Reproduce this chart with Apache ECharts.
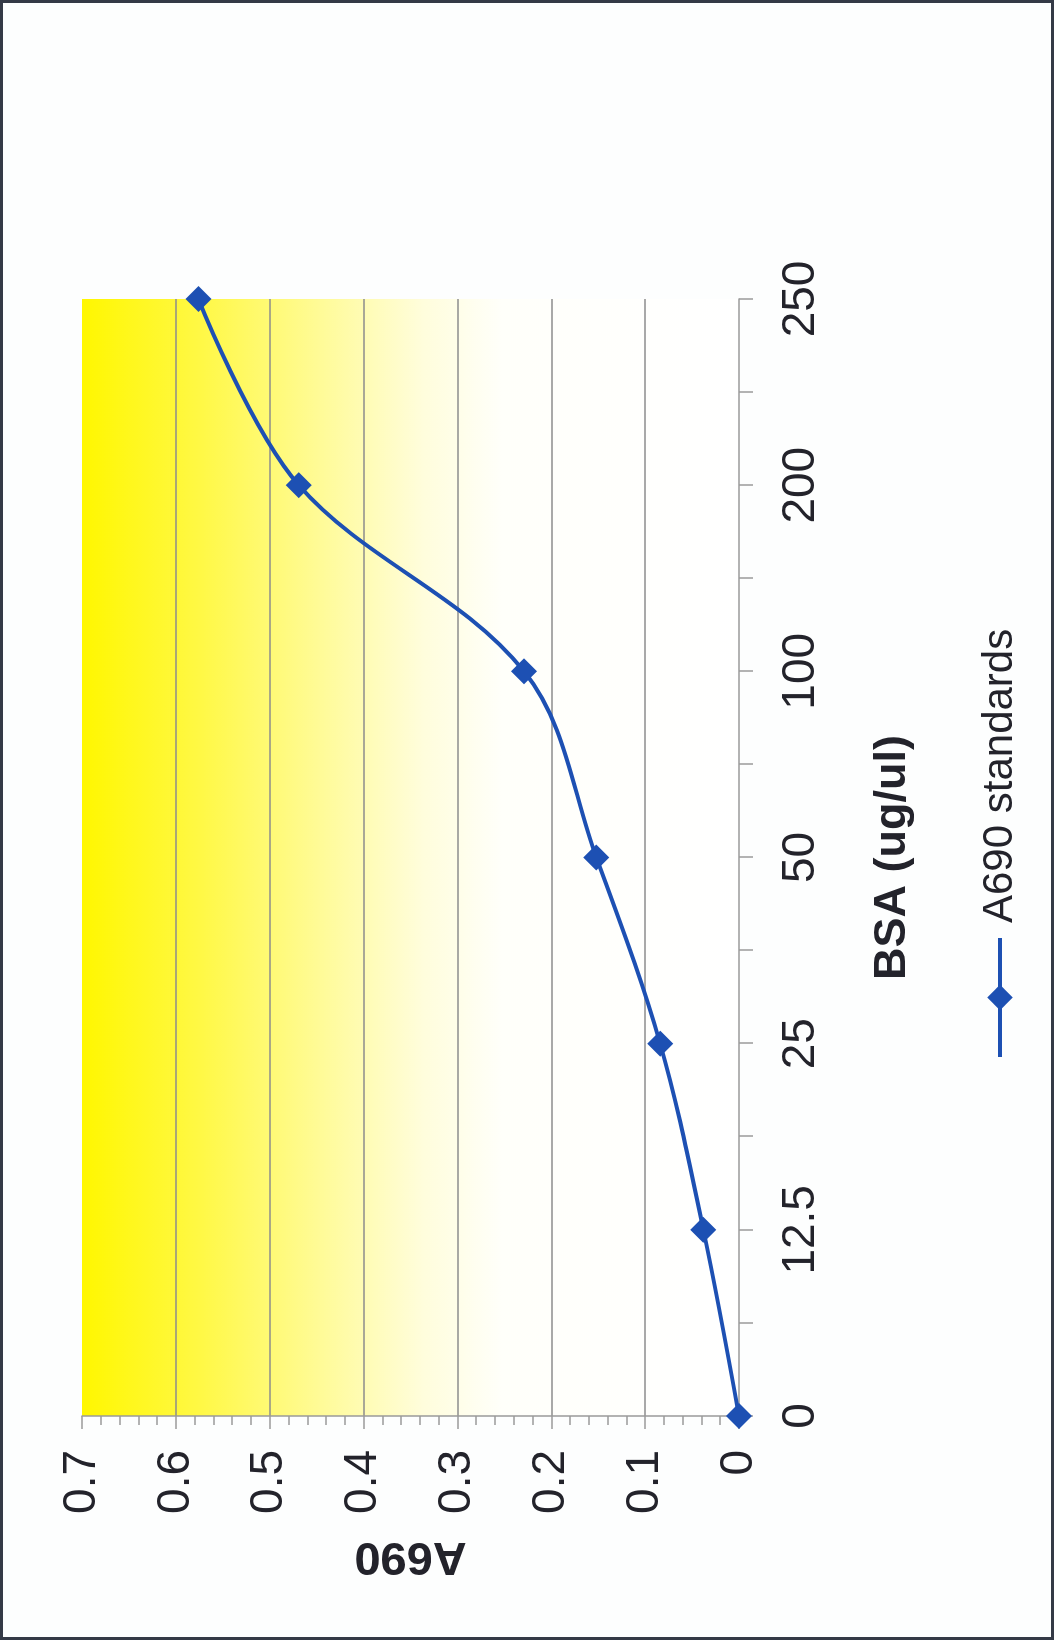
<!DOCTYPE html>
<html>
<head>
<meta charset="utf-8">
<script src="https://cdn.jsdelivr.net/npm/echarts@6/dist/echarts.min.js"></script>
<style>
  html, body { margin: 0; padding: 0; background: #ffffff; }
  #frame {
    position: absolute; left: 0; top: 0; width: 1054px; height: 1640px;
    box-sizing: border-box; border: 3px solid #343a46; background: #fdfefe;
  }
  /* the chart is laid out landscape and turned a quarter turn counter-clockwise */
  #chart {
    position: absolute; left: 0; top: 0; width: 1640px; height: 1054px;
    transform-origin: 0 0;
    transform: translate(0, 1640px) rotate(-90deg);
  }
</style>
</head>
<body>
<div id="frame"></div>
<div id="chart"></div>
<script>
// BSA standard concentrations (ug/ul), plotted at evenly spaced positions
const bsaLabels = ['0', '12.5', '25', '50', '100', '200', '250'];
// Absorbance at 690 nm for each standard
const a690Values = [0, 0.038, 0.084, 0.152, 0.229, 0.469, 0.576];
// Value axis ticks
const a690Ticks = [0, 0.1, 0.2, 0.3, 0.4, 0.5, 0.6, 0.7];
const seriesName = 'A690 standards';

const BLUE = '#1d50b3';
const TEXT = '#23232b';
const AXIS = '#9a9a9a';
const labelFont = "'Liberation Sans', Arial, Helvetica, sans-serif";
const titleFont = "'Liberation Sans', Arial, Helvetica, sans-serif";

const chart = echarts.init(document.getElementById('chart'), null, { renderer: 'canvas' });

// one split line per tick; the top one (0.7) and the axis one (0) stay hidden
const splitColors = a690Ticks.map((t, i) =>
  (i === 0 || i === a690Ticks.length - 1) ? 'rgba(0,0,0,0)' : '#8c8c8c');

chart.setOption({
  animation: false,
  backgroundColor: 'transparent',
  grid: {
    left: 224, right: 299, top: 82, bottom: 315,
    show: true,
    borderWidth: 0,
    backgroundColor: new echarts.graphic.LinearGradient(0, 0, 0, 1, [
      { offset: 0, color: '#fff700' },
      { offset: 0.18, color: '#fff845' },
      { offset: 0.36, color: '#fffb96' },
      { offset: 0.52, color: '#fffddc' },
      { offset: 0.64, color: '#fffffa' },
      { offset: 1, color: '#ffffff' }
    ])
  },
  legend: {
    data: [seriesName],
    left: 576,
    top: 974,
    itemWidth: 119,
    itemHeight: 32,
    lineStyle: { width: 4 },
    textStyle: {
      fontFamily: labelFont, fontSize: 42, color: TEXT,
      padding: [0, 0, 0, 10]
    }
  },
  xAxis: {
    type: 'value',
    min: 0,
    max: bsaLabels.length - 1,
    interval: 0.5,
    name: 'BSA (ug/ul)',
    nameLocation: 'middle',
    nameGap: 131,
    nameTextStyle: { fontFamily: titleFont, fontWeight: 'bold', fontSize: 45, color: TEXT },
    axisLine: { show: true, lineStyle: { color: AXIS, width: 1.5 } },
    axisTick: { show: true, length: 14, lineStyle: { color: AXIS, width: 1.5 } },
    splitLine: { show: false },
    axisLabel: {
      margin: 39,
      fontFamily: labelFont, fontSize: 46, color: TEXT,
      showMinLabel: true, showMaxLabel: true,
      formatter: v => Number.isInteger(v) ? bsaLabels[v] : ''
    }
  },
  yAxis: {
    type: 'value',
    min: 0,
    max: 0.7,
    interval: 0.1,
    name: 'A690',
    nameLocation: 'middle',
    nameRotate: 90,
    nameGap: 116,
    nameTextStyle: { fontFamily: titleFont, fontWeight: 'bold', fontSize: 47, color: TEXT },
    axisLine: { show: true, lineStyle: { color: AXIS, width: 1.5 } },
    axisTick: { show: true, length: 13, lineStyle: { color: AXIS, width: 1.5 } },
    minorTick: { show: true, splitNumber: 5, length: 9, lineStyle: { color: AXIS, width: 1.5 } },
    splitLine: { show: true, lineStyle: { color: splitColors, width: 1.5 } },
    axisLabel: {
      margin: 34,
      fontFamily: labelFont, fontSize: 46, color: TEXT,
      formatter: v => {
        const r = Math.round(v * 10) / 10;
        return r === 0 ? '0' : r.toFixed(1);
      }
    }
  },
  series: [{
    name: seriesName,
    type: 'line',
    data: a690Values.map((v, i) => [i, v]),
    smooth: 0.35,
    symbol: 'diamond',
    symbolSize: 26,
    lineStyle: { color: BLUE, width: 4 },
    itemStyle: { color: BLUE },
    z: 5
  }]
});
</script>
</body>
</html>
